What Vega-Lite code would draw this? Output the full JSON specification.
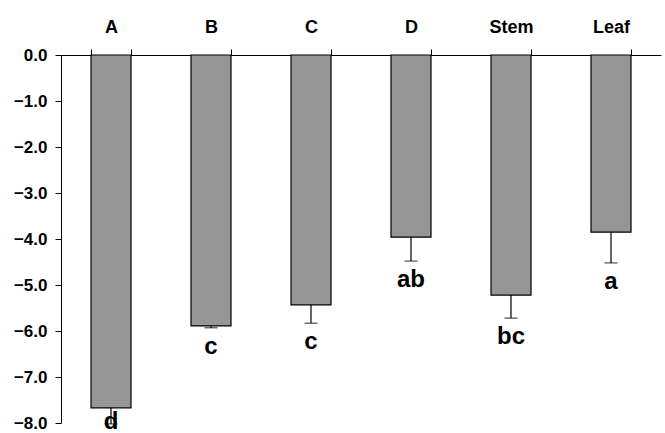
{
  "$schema": "https://vega.github.io/schema/vega-lite/v6.json",
  "width": 600,
  "height": 368,
  "autosize": {"type": "none"},
  "padding": {"left": 61, "top": 55, "right": 4, "bottom": 10},
  "background": "white",
  "config": {
    "view": {"stroke": null},
    "font": "Liberation Sans"
  },
  "data": {
    "values": [
      {"group": "A", "value": -7.67, "low": -8.02, "letter": "d"},
      {"group": "B", "value": -5.89, "low": -5.93, "letter": "c"},
      {"group": "C", "value": -5.43, "low": -5.83, "letter": "c"},
      {"group": "D", "value": -3.96, "low": -4.48, "letter": "ab"},
      {"group": "Stem", "value": -5.22, "low": -5.72, "letter": "bc"},
      {"group": "Leaf", "value": -3.85, "low": -4.52, "letter": "a"}
    ]
  },
  "encoding": {
    "x": {
      "field": "group",
      "type": "nominal",
      "sort": null,
      "scale": {"paddingInner": 0.6, "paddingOuter": 0.3},
      "axis": {
        "orient": "top",
        "title": null,
        "labelAngle": 0,
        "labelFont": "Liberation Sans",
        "labelFontWeight": "bold",
        "labelFontSize": 18,
        "labelColor": "black",
        "labelPadding": 17,
        "labelBaseline": "alphabetic",
        "tickBand": "extent",
        "tickSize": 6,
        "tickColor": "black",
        "domainColor": "black",
        "grid": false
      }
    }
  },
  "layer": [
    {
      "mark": {"type": "bar", "fill": "#969696", "stroke": "black", "strokeWidth": 1.2},
      "encoding": {
        "y": {
          "field": "value",
          "type": "quantitative",
          "scale": {"domain": [-8, 0], "nice": false, "zero": false},
          "axis": {
            "title": null,
            "values": [0, -1, -2, -3, -4, -5, -6, -7, -8],
            "format": ".1f",
            "labelFont": "Liberation Sans",
            "labelFontWeight": "bold",
            "labelFontSize": 17,
            "labelColor": "black",
            "labelPadding": 8,
            "tickSize": 6,
            "tickColor": "black",
            "domainColor": "black",
            "grid": false
          }
        },
        "y2": {"datum": 0}
      }
    },
    {
      "mark": {"type": "rule", "color": "black", "strokeWidth": 1.2},
      "encoding": {
        "y": {"field": "value", "type": "quantitative"},
        "y2": {"field": "low"}
      }
    },
    {
      "mark": {"type": "tick", "color": "black", "thickness": 1.2, "size": 13},
      "encoding": {
        "y": {"field": "low", "type": "quantitative"}
      }
    },
    {
      "transform": [{"calculate": "max(datum.low - 0.41, -7.97)", "as": "labelY"}],
      "mark": {"type": "text", "font": "Liberation Sans", "fontWeight": "bold", "fontSize": 24, "baseline": "middle", "color": "black"},
      "encoding": {
        "y": {"field": "labelY", "type": "quantitative"},
        "text": {"field": "letter"}
      }
    }
  ]
}
